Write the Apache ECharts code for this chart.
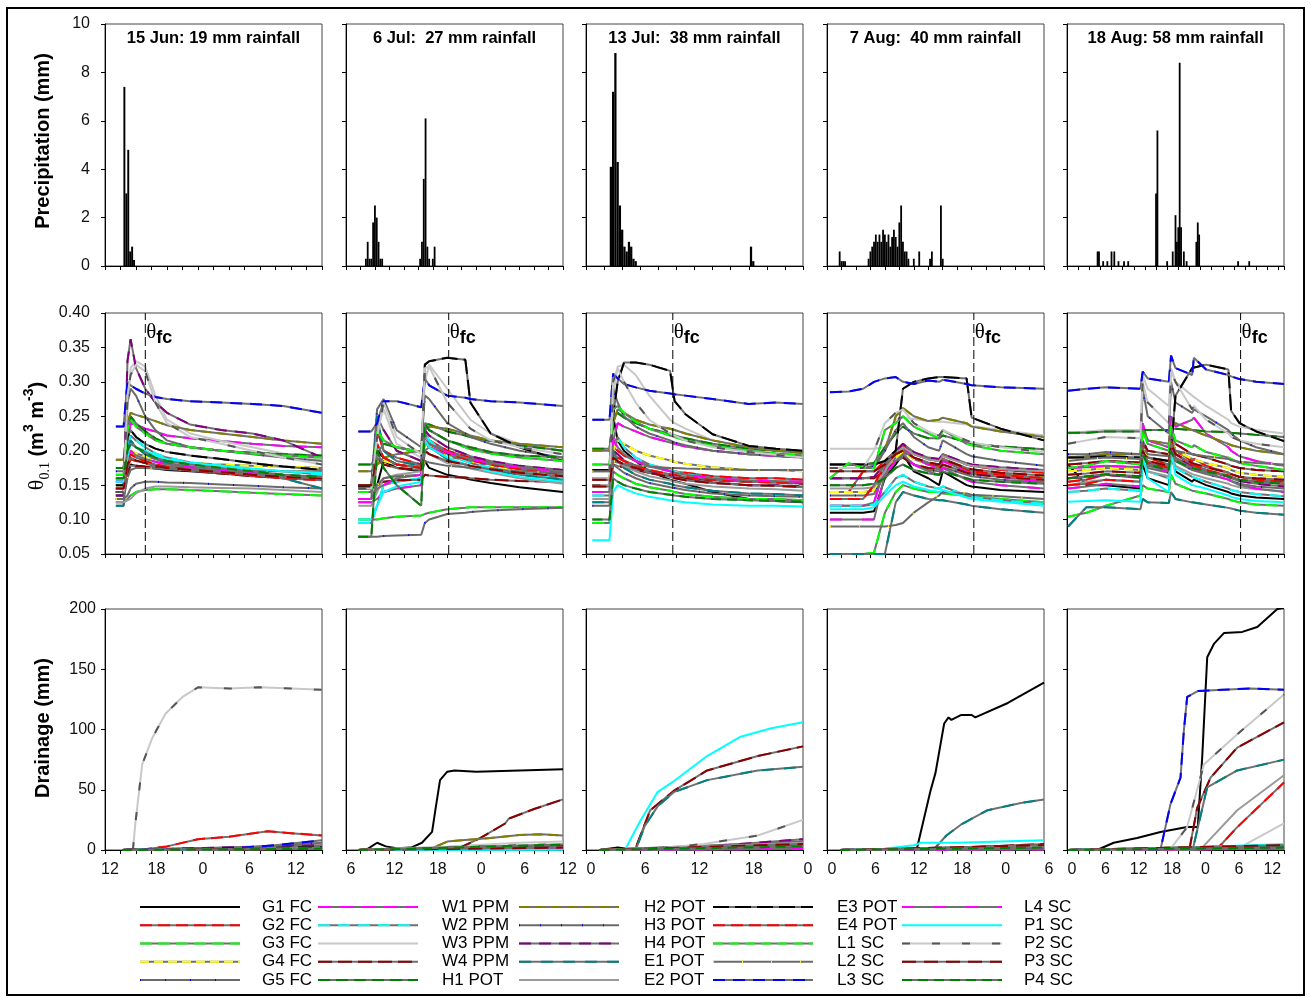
<!DOCTYPE html>
<html><head><meta charset="utf-8">
<script src="https://cdn.jsdelivr.net/npm/echarts@6/dist/echarts.min.js"></script>
<style>html,body{margin:0;padding:0;background:#fff}#c{width:1311px;height:997px}</style>
</head><body><div id="c"></div>
<script>
// ---------------- DATA ----------------
const seriesNames = ['G1 FC','G2 FC','G3 FC','G4 FC','G5 FC','W1 PPM','W2 PPM','W3 PPM','W4 PPM','H1 POT',
  'H2 POT','H3 POT','H4 POT','E1 POT','E2 POT','E3 POT','E4 POT','L1 SC','L2 SC','L3 SC','L4 SC','P1 SC','P2 SC','P3 SC','P4 SC'];
const panelTitles = ['15 Jun: 19 mm rainfall','6 Jul:  27 mm rainfall','13 Jul:  38 mm rainfall','7 Aug:  40 mm rainfall','18 Aug: 58 mm rainfall'];
const hourMin = [12, 6, 0, 0, 0];
const hourMax = [40, 36, 24, 30, 39];
const thetaFcHours = [17.2, 20.2, 9.6, 20.3, 31.2];

// precipitation [hour, mm]
const precip15Jun = [[14.5,7.4],[14.75,3.0],[15.0,4.8],[15.25,0.6],[15.5,0.8],[15.75,0.25]];
const precip6Jul = [[8.75,0.3],[9.0,1.0],[9.25,0.3],[9.5,0.3],[9.75,1.8],[10.0,2.5],[10.25,2.0],[10.5,1.0],[10.75,0.3],[11.0,0.3],
  [16.25,0.3],[16.5,1.0],[16.75,3.6],[17.0,6.1],[17.25,0.8],[17.5,0.3],[18.0,0.3],[18.25,0.8]];
const precip13Jul = [[2.75,4.1],[3.0,7.2],[3.25,8.8],[3.5,4.3],[3.75,2.5],[4.0,1.5],[4.25,0.8],[4.5,0.6],[4.75,1.0],[5.0,0.8],[5.25,0.3],[5.5,0.2],[18.25,0.8],[18.5,0.2]];
const precip7Aug = [[1.75,0.6],[2.0,0.2],[2.25,0.2],[2.5,0.2],[5.75,0.3],[6.0,0.6],[6.25,0.8],[6.5,1.0],[6.75,1.3],[7.0,1.0],[7.25,1.3],[7.5,1.0],
  [7.75,1.5],[8.0,1.3],[8.25,1.0],[8.5,1.3],[8.75,0.8],[9.0,1.2],[9.25,1.5],[9.5,1.2],[9.75,0.8],[10.0,1.8],[10.25,2.5],[10.5,1.0],
  [10.75,0.6],[11.0,0.6],[11.25,0.3],[12.0,0.3],[12.75,0.6],[14.25,0.3],[14.5,0.6],[15.75,2.5],[16.0,0.3]];
const precip18Aug = [[5.5,0.6],[5.75,0.6],[6.5,0.2],[7.25,0.2],[8.0,0.6],[8.5,0.6],[9.25,0.2],[10.25,0.2],[11.0,0.2],[16.0,3.0],[16.25,5.6],
  [18.0,0.2],[19.0,0.6],[19.5,2.1],[19.75,1.0],[20.0,1.6],[20.25,8.4],[20.5,1.6],[21.0,0.6],[21.5,0.2],[23.25,1.0],[23.5,1.8],[23.75,1.3],[30.75,0.2],[32.75,0.2]];

// soil water content: time grids (hours) and one value row per sensor (order of seriesNames)
const thetaTime15Jun = [13.4,14.4,14.9,15.3,16,17.2,18.5,20,23,27,31,35,40];
const theta15Jun = [
 [0.135,0.135,0.165,0.180,0.178,0.176,0.174,0.172,0.170,0.167,0.164,0.162,0.160],
 [0.145,0.145,0.180,0.195,0.190,0.185,0.180,0.177,0.174,0.170,0.166,0.163,0.160],
 [0.125,0.125,0.130,0.135,0.140,0.143,0.144,0.144,0.143,0.141,0.139,0.137,0.135],
 [0.150,0.150,0.190,0.200,0.196,0.192,0.188,0.185,0.182,0.180,0.178,0.177,0.175],
 [0.130,0.130,0.135,0.145,0.152,0.155,0.155,0.154,0.153,0.151,0.149,0.147,0.145],
 [0.140,0.140,0.210,0.240,0.238,0.232,0.228,0.222,0.218,0.214,0.210,0.207,0.205],
 [0.158,0.158,0.200,0.222,0.215,0.205,0.196,0.190,0.183,0.178,0.173,0.170,0.165],
 [0.145,0.145,0.260,0.320,0.330,0.322,0.280,0.245,0.225,0.214,0.205,0.196,0.186],
 [0.140,0.140,0.170,0.178,0.178,0.177,0.176,0.174,0.171,0.167,0.163,0.160,0.158],
 [0.175,0.175,0.230,0.250,0.240,0.228,0.218,0.210,0.205,0.200,0.197,0.195,0.193],
 [0.187,0.187,0.240,0.255,0.252,0.248,0.243,0.237,0.230,0.225,0.220,0.215,0.210],
 [0.170,0.170,0.270,0.290,0.280,0.250,0.230,0.215,0.205,0.200,0.195,0.190,0.185],
 [0.135,0.135,0.330,0.362,0.320,0.290,0.270,0.255,0.238,0.230,0.225,0.215,0.190],
 [0.120,0.120,0.200,0.215,0.205,0.195,0.188,0.182,0.177,0.172,0.168,0.160,0.145],
 [0.125,0.125,0.128,0.130,0.138,0.145,0.148,0.148,0.147,0.146,0.145,0.143,0.140],
 [0.150,0.150,0.220,0.230,0.220,0.210,0.203,0.198,0.193,0.188,0.182,0.177,0.172],
 [0.140,0.140,0.175,0.188,0.185,0.182,0.178,0.175,0.172,0.168,0.164,0.160,0.157],
 [0.165,0.165,0.230,0.245,0.235,0.225,0.215,0.210,0.205,0.200,0.196,0.193,0.190],
 [0.130,0.130,0.160,0.172,0.175,0.175,0.174,0.173,0.172,0.171,0.170,0.170,0.170],
 [0.235,0.235,0.300,0.295,0.290,0.283,0.278,0.275,0.272,0.270,0.268,0.265,0.255],
 [0.155,0.155,0.190,0.200,0.193,0.188,0.184,0.180,0.176,0.172,0.168,0.165,0.162],
 [0.155,0.155,0.190,0.210,0.205,0.200,0.193,0.188,0.182,0.178,0.174,0.170,0.168],
 [0.140,0.140,0.280,0.310,0.325,0.315,0.270,0.240,0.220,0.210,0.200,0.190,0.180],
 [0.145,0.145,0.180,0.190,0.186,0.182,0.178,0.175,0.172,0.169,0.165,0.162,0.160],
 [0.160,0.160,0.200,0.210,0.205,0.198,0.190,0.185,0.180,0.175,0.170,0.165,0.162]];
const thetaTime6Jul = [7.7,9.5,10.3,11.2,13,16.4,16.9,17.5,20,22.5,23.2,26,30,36];
const theta6Jul = [
 [0.145,0.145,0.150,0.185,0.175,0.170,0.185,0.175,0.165,0.160,0.158,0.153,0.147,0.140],
 [0.150,0.150,0.230,0.200,0.190,0.180,0.220,0.215,0.200,0.192,0.190,0.183,0.176,0.168],
 [0.100,0.100,0.100,0.102,0.104,0.106,0.108,0.110,0.115,0.117,0.118,0.118,0.118,0.118],
 [0.150,0.150,0.180,0.185,0.180,0.176,0.210,0.205,0.192,0.186,0.184,0.178,0.172,0.168],
 [0.075,0.075,0.075,0.076,0.077,0.078,0.095,0.100,0.108,0.110,0.111,0.113,0.115,0.117],
 [0.125,0.125,0.130,0.140,0.145,0.150,0.200,0.205,0.195,0.188,0.186,0.180,0.175,0.170],
 [0.095,0.095,0.120,0.150,0.155,0.160,0.225,0.215,0.195,0.185,0.182,0.175,0.168,0.160],
 [0.150,0.150,0.230,0.260,0.210,0.190,0.300,0.325,0.290,0.255,0.245,0.225,0.210,0.200],
 [0.148,0.148,0.150,0.155,0.157,0.158,0.165,0.164,0.162,0.161,0.160,0.158,0.156,0.155],
 [0.180,0.180,0.195,0.210,0.205,0.198,0.240,0.238,0.228,0.222,0.220,0.214,0.208,0.200],
 [0.170,0.170,0.180,0.190,0.195,0.200,0.230,0.235,0.232,0.225,0.222,0.215,0.210,0.205],
 [0.150,0.150,0.260,0.275,0.230,0.205,0.280,0.275,0.240,0.225,0.220,0.210,0.200,0.190],
 [0.145,0.145,0.250,0.230,0.200,0.185,0.230,0.222,0.205,0.195,0.192,0.185,0.178,0.172],
 [0.130,0.130,0.250,0.200,0.185,0.178,0.215,0.205,0.188,0.180,0.178,0.172,0.165,0.158],
 [0.120,0.120,0.140,0.160,0.165,0.170,0.200,0.195,0.182,0.176,0.174,0.168,0.160,0.152],
 [0.148,0.148,0.200,0.190,0.180,0.175,0.325,0.330,0.335,0.332,0.270,0.225,0.205,0.185],
 [0.140,0.140,0.210,0.190,0.180,0.175,0.215,0.210,0.196,0.188,0.186,0.180,0.173,0.165],
 [0.140,0.140,0.230,0.215,0.205,0.198,0.235,0.230,0.215,0.205,0.202,0.196,0.190,0.185],
 [0.130,0.130,0.150,0.160,0.163,0.165,0.185,0.183,0.178,0.176,0.175,0.172,0.170,0.168],
 [0.228,0.228,0.240,0.272,0.272,0.263,0.305,0.295,0.280,0.277,0.275,0.272,0.270,0.265],
 [0.130,0.130,0.145,0.150,0.160,0.165,0.215,0.210,0.198,0.190,0.188,0.182,0.176,0.170],
 [0.100,0.100,0.120,0.140,0.148,0.155,0.215,0.205,0.190,0.180,0.178,0.170,0.162,0.155],
 [0.145,0.145,0.220,0.270,0.220,0.195,0.320,0.322,0.270,0.240,0.232,0.215,0.205,0.195],
 [0.150,0.150,0.190,0.180,0.175,0.172,0.200,0.195,0.185,0.180,0.178,0.173,0.168,0.163],
 [0.075,0.075,0.200,0.175,0.150,0.120,0.240,0.230,0.215,0.207,0.205,0.198,0.193,0.190]];
const thetaTime13Jul = [0.7,2.6,3.0,3.5,4.2,5.5,7,9.3,9.8,11,14,18,21,24];
const theta13Jul = [
 [0.150,0.150,0.250,0.215,0.200,0.185,0.170,0.158,0.156,0.152,0.140,0.130,0.127,0.125],
 [0.158,0.158,0.205,0.200,0.193,0.185,0.178,0.172,0.170,0.168,0.163,0.160,0.160,0.158],
 [0.095,0.095,0.170,0.165,0.160,0.152,0.147,0.142,0.140,0.137,0.133,0.130,0.130,0.128],
 [0.160,0.160,0.200,0.215,0.210,0.200,0.193,0.186,0.184,0.181,0.176,0.172,0.172,0.170],
 [0.120,0.120,0.180,0.175,0.168,0.160,0.153,0.147,0.146,0.143,0.138,0.135,0.134,0.133],
 [0.160,0.160,0.215,0.240,0.235,0.228,0.220,0.212,0.210,0.206,0.200,0.195,0.192,0.190],
 [0.135,0.135,0.210,0.220,0.205,0.190,0.180,0.172,0.170,0.166,0.160,0.156,0.155,0.153],
 [0.160,0.160,0.280,0.322,0.325,0.310,0.280,0.245,0.240,0.232,0.215,0.205,0.200,0.195],
 [0.158,0.158,0.180,0.178,0.176,0.172,0.168,0.163,0.162,0.160,0.157,0.155,0.154,0.152],
 [0.203,0.203,0.250,0.255,0.248,0.240,0.232,0.225,0.222,0.218,0.210,0.203,0.200,0.197],
 [0.200,0.200,0.240,0.260,0.255,0.245,0.238,0.232,0.230,0.225,0.215,0.205,0.200,0.198],
 [0.170,0.170,0.290,0.270,0.250,0.235,0.225,0.215,0.212,0.208,0.200,0.195,0.193,0.190],
 [0.140,0.140,0.200,0.195,0.186,0.178,0.170,0.163,0.161,0.158,0.154,0.150,0.150,0.148],
 [0.125,0.125,0.200,0.185,0.175,0.165,0.158,0.152,0.150,0.147,0.142,0.138,0.137,0.135],
 [0.130,0.130,0.190,0.185,0.178,0.170,0.163,0.157,0.155,0.152,0.148,0.145,0.144,0.142],
 [0.172,0.172,0.250,0.300,0.328,0.328,0.325,0.316,0.272,0.253,0.224,0.207,0.203,0.200],
 [0.150,0.150,0.195,0.190,0.185,0.178,0.172,0.166,0.165,0.162,0.158,0.155,0.154,0.153],
 [0.180,0.180,0.260,0.265,0.255,0.242,0.232,0.222,0.220,0.215,0.207,0.200,0.196,0.193],
 [0.170,0.170,0.185,0.183,0.181,0.179,0.177,0.175,0.175,0.174,0.173,0.172,0.172,0.172],
 [0.245,0.245,0.312,0.305,0.297,0.292,0.287,0.283,0.282,0.280,0.275,0.268,0.270,0.268],
 [0.140,0.140,0.215,0.205,0.195,0.185,0.177,0.170,0.168,0.165,0.160,0.157,0.156,0.155],
 [0.070,0.070,0.140,0.150,0.145,0.138,0.133,0.128,0.127,0.125,0.122,0.120,0.120,0.119],
 [0.150,0.150,0.300,0.320,0.300,0.270,0.245,0.225,0.222,0.215,0.205,0.198,0.194,0.190],
 [0.148,0.148,0.190,0.185,0.180,0.175,0.168,0.162,0.160,0.157,0.153,0.150,0.149,0.147],
 [0.100,0.100,0.160,0.155,0.150,0.145,0.140,0.136,0.135,0.133,0.130,0.128,0.127,0.126]];
const thetaTime7Aug = [0.4,3,5,6.5,8,9.5,10.5,12,14,15.5,16,19.3,20,24,30];
const theta7Aug = [
 [0.110,0.110,0.110,0.112,0.160,0.180,0.195,0.170,0.160,0.150,0.170,0.150,0.148,0.143,0.140],
 [0.140,0.140,0.170,0.170,0.185,0.200,0.208,0.195,0.188,0.185,0.195,0.180,0.178,0.172,0.168],
 [0.050,0.050,0.050,0.052,0.110,0.140,0.150,0.145,0.140,0.140,0.138,0.135,0.134,0.130,0.125],
 [0.140,0.140,0.140,0.142,0.170,0.190,0.198,0.188,0.180,0.178,0.186,0.172,0.170,0.166,0.162],
 [0.135,0.135,0.135,0.137,0.165,0.185,0.190,0.180,0.172,0.170,0.176,0.165,0.163,0.158,0.154],
 [0.120,0.120,0.120,0.125,0.175,0.195,0.205,0.190,0.180,0.175,0.185,0.170,0.168,0.162,0.155],
 [0.120,0.120,0.120,0.122,0.140,0.160,0.165,0.155,0.148,0.145,0.148,0.135,0.133,0.128,0.123],
 [0.203,0.203,0.203,0.203,0.205,0.245,0.248,0.246,0.243,0.242,0.242,0.238,0.236,0.230,0.222],
 [0.160,0.160,0.160,0.160,0.170,0.185,0.190,0.180,0.175,0.173,0.180,0.168,0.166,0.162,0.158],
 [0.180,0.180,0.180,0.182,0.205,0.225,0.235,0.225,0.218,0.218,0.222,0.213,0.210,0.206,0.202],
 [0.175,0.175,0.175,0.175,0.200,0.250,0.262,0.250,0.243,0.245,0.248,0.240,0.235,0.228,0.220],
 [0.175,0.175,0.175,0.178,0.200,0.230,0.240,0.220,0.205,0.200,0.215,0.195,0.192,0.185,0.178],
 [0.160,0.160,0.160,0.162,0.180,0.200,0.210,0.198,0.190,0.188,0.195,0.182,0.180,0.176,0.172],
 [0.050,0.050,0.050,0.050,0.050,0.125,0.140,0.135,0.130,0.128,0.128,0.122,0.120,0.115,0.110],
 [0.145,0.145,0.145,0.147,0.170,0.195,0.205,0.195,0.187,0.185,0.192,0.180,0.178,0.173,0.170],
 [0.180,0.180,0.180,0.180,0.185,0.200,0.290,0.300,0.305,0.307,0.307,0.305,0.248,0.232,0.215],
 [0.130,0.130,0.130,0.150,0.180,0.195,0.200,0.190,0.182,0.178,0.188,0.173,0.170,0.165,0.160],
 [0.160,0.182,0.175,0.175,0.230,0.240,0.250,0.235,0.225,0.218,0.230,0.210,0.208,0.200,0.195],
 [0.090,0.090,0.090,0.090,0.090,0.092,0.095,0.110,0.125,0.135,0.140,0.138,0.136,0.134,0.130],
 [0.285,0.286,0.290,0.300,0.305,0.307,0.300,0.297,0.302,0.300,0.303,0.297,0.295,0.292,0.290],
 [0.100,0.100,0.100,0.100,0.165,0.185,0.195,0.180,0.170,0.165,0.175,0.158,0.155,0.150,0.145],
 [0.115,0.115,0.115,0.118,0.135,0.150,0.155,0.148,0.143,0.140,0.143,0.132,0.130,0.126,0.120],
 [0.175,0.175,0.175,0.200,0.240,0.255,0.260,0.240,0.228,0.222,0.230,0.215,0.212,0.205,0.198],
 [0.170,0.170,0.170,0.170,0.180,0.195,0.200,0.190,0.183,0.180,0.188,0.175,0.173,0.168,0.164],
 [0.150,0.150,0.150,0.152,0.160,0.175,0.180,0.172,0.167,0.165,0.170,0.160,0.158,0.155,0.152]];
const thetaTime18Aug = [0.2,3.5,7,13.2,13.6,14.5,18.3,18.7,19.5,22.5,22.8,25,29,29.5,31,34,39];
const theta18Aug = [
 [0.180,0.150,0.150,0.145,0.180,0.160,0.150,0.195,0.170,0.155,0.158,0.150,0.140,0.138,0.135,0.132,0.130],
 [0.155,0.158,0.165,0.162,0.210,0.190,0.180,0.220,0.200,0.185,0.188,0.178,0.168,0.166,0.162,0.158,0.155],
 [0.104,0.110,0.120,0.135,0.150,0.145,0.140,0.165,0.152,0.142,0.144,0.138,0.130,0.128,0.125,0.122,0.120],
 [0.170,0.172,0.175,0.172,0.205,0.190,0.185,0.215,0.200,0.188,0.190,0.182,0.175,0.172,0.168,0.165,0.162],
 [0.160,0.162,0.165,0.160,0.190,0.175,0.168,0.200,0.185,0.172,0.174,0.166,0.158,0.156,0.152,0.148,0.145],
 [0.175,0.176,0.178,0.176,0.240,0.215,0.205,0.250,0.235,0.245,0.248,0.225,0.205,0.200,0.192,0.185,0.178],
 [0.140,0.142,0.145,0.142,0.190,0.170,0.160,0.195,0.175,0.162,0.164,0.155,0.145,0.143,0.140,0.137,0.134],
 [0.225,0.228,0.230,0.230,0.310,0.290,0.265,0.320,0.300,0.280,0.282,0.265,0.245,0.240,0.235,0.230,0.225],
 [0.180,0.182,0.185,0.183,0.215,0.200,0.195,0.225,0.210,0.195,0.197,0.190,0.180,0.178,0.175,0.172,0.170],
 [0.226,0.226,0.228,0.228,0.230,0.230,0.230,0.232,0.232,0.230,0.230,0.228,0.227,0.226,0.225,0.223,0.220],
 [0.190,0.192,0.195,0.195,0.230,0.215,0.210,0.235,0.240,0.230,0.232,0.222,0.210,0.208,0.205,0.200,0.195],
 [0.195,0.195,0.198,0.195,0.290,0.250,0.225,0.300,0.270,0.255,0.260,0.250,0.230,0.225,0.215,0.205,0.195],
 [0.160,0.162,0.165,0.162,0.200,0.182,0.175,0.210,0.190,0.178,0.180,0.172,0.162,0.160,0.156,0.152,0.148],
 [0.090,0.118,0.118,0.115,0.130,0.125,0.124,0.140,0.130,0.125,0.126,0.122,0.117,0.116,0.113,0.110,0.107],
 [0.150,0.155,0.158,0.155,0.185,0.170,0.163,0.195,0.178,0.166,0.168,0.160,0.152,0.150,0.147,0.144,0.141],
 [0.190,0.190,0.192,0.190,0.195,0.190,0.185,0.200,0.280,0.320,0.322,0.325,0.318,0.258,0.240,0.228,0.214],
 [0.150,0.152,0.158,0.155,0.200,0.183,0.175,0.215,0.195,0.180,0.182,0.172,0.164,0.162,0.158,0.155,0.152],
 [0.175,0.178,0.185,0.180,0.230,0.210,0.200,0.235,0.215,0.205,0.208,0.198,0.190,0.188,0.182,0.178,0.172],
 [0.185,0.188,0.190,0.188,0.205,0.195,0.192,0.210,0.200,0.195,0.196,0.192,0.188,0.186,0.184,0.182,0.180],
 [0.287,0.290,0.292,0.290,0.315,0.305,0.300,0.338,0.320,0.310,0.335,0.318,0.310,0.308,0.304,0.300,0.297],
 [0.145,0.148,0.152,0.148,0.195,0.178,0.170,0.205,0.188,0.175,0.177,0.168,0.158,0.156,0.150,0.145,0.140],
 [0.126,0.127,0.128,0.126,0.200,0.160,0.140,0.200,0.165,0.150,0.152,0.145,0.135,0.133,0.130,0.127,0.125],
 [0.210,0.215,0.220,0.218,0.300,0.270,0.240,0.315,0.300,0.260,0.265,0.245,0.225,0.220,0.215,0.210,0.205],
 [0.165,0.167,0.170,0.168,0.200,0.185,0.178,0.210,0.195,0.182,0.184,0.176,0.168,0.166,0.162,0.160,0.158],
 [0.160,0.163,0.166,0.163,0.195,0.180,0.172,0.200,0.185,0.175,0.177,0.170,0.163,0.161,0.158,0.155,0.152]];

// cumulative drainage [hour, mm] per sensor (order of seriesNames)
const drain15Jun = [
 [[14.2,0],[40,1.5]],[[14.2,0],[40,2]],[[14.2,0],[40,1]],[[14.2,0],[40,2.5]],[[14.2,0],[40,3]],
 [[14.2,0],[40,3.5]],[[14.2,0],[40,2]],[[14.2,0],[40,4]],[[14.2,0],[40,1]],[[14.2,0],[40,2]],
 [[14.2,0],[40,3]],[[14.2,0],[30,2],[40,6]],[[14.2,0],[40,4]],[[14.2,0],[40,1.5]],[[14.2,0],[40,2]],
 [[14.2,0],[40,2.5]],[[14.2,0],[17,0.5],[20,3],[24,9],[28,11],[33,15.5],[36,14],[40,12]],[[14.2,0],[40,1.5]],[[14.2,0],[40,2]],[[14.2,0],[30,2],[34,4],[40,8]],
 [[14.2,0],[40,1]],[[14.2,0],[40,1.5]],[[15.6,0],[15.9,21],[16.8,71],[18.1,93],[19.8,113],[22,127],[24,135],[28,134],[32,135],[36,134],[40,133]],[[14.2,0],[40,1.5]],[[14.2,0],[40,1]]];
const drain6Jul = [
 [[7.7,0],[9,1],[10.3,6],[11.5,3],[13,1.5],[15,2],[16.5,6],[17.9,15],[18.4,35],[19,58],[20,65],[21,66],[24,65],[30,66],[36,67]],
 [[7.7,0],[36,2]],[[7.7,0],[36,1]],[[7.7,0],[36,3]],[[7.7,0],[36,2]],
 [[7.7,0],[36,1.5]],[[7.7,0],[36,1]],[[7.7,0],[20,3],[30,6],[36,7]],[[7.7,0],[21.1,0],[24.6,10],[28,22],[28.5,26],[32,34],[36,42]],[[7.7,0],[36,3]],
 [[7.7,0],[17.5,0.5],[20,7],[22,8],[26,10],[30,12.5],[33,13],[36,12]],[[7.7,0],[36,2.5]],[[7.7,0],[36,4]],[[7.7,0],[36,2]],[[7.7,0],[36,3]],
 [[7.7,0],[36,4]],[[7.7,0],[36,2]],[[7.7,0],[36,1.5]],[[7.7,0],[36,2]],[[7.7,0],[36,0.5]],
 [[7.7,0],[36,1]],[[7.7,0],[36,0.3]],[[7.7,0],[36,5]],[[7.7,0],[36,2]],[[7.7,0],[36,4.5]]];
const drain13Jul = [
 [[1.5,0],[3.5,2],[4.5,1],[24,5]],[[1.5,0],[24,4]],[[1.5,0],[24,2]],[[1.5,0],[24,5]],[[1.5,0],[24,3]],
 [[1.5,0],[24,1]],[[1.5,0],[24,3]],[[1.5,0],[24,6]],[[1.5,0],[5.4,0],[7.1,33],[9.7,49],[13.4,66],[19,78],[24,86]],[[1.5,0],[24,4]],
 [[1.5,0],[24,5]],[[1.5,0],[24,7]],[[1.5,0],[12,2],[24,9]],[[1.5,0],[5.5,0],[6.5,20],[7.9,36],[9.7,48],[13.4,58],[19,66],[24,69]],[[1.5,0],[24,6]],
 [[1.5,0],[24,4]],[[1.5,0],[24,3]],[[1.5,0],[24,2]],[[1.5,0],[24,3]],[[1.5,0],[24,1.5]],
 [[1.5,0],[24,1]],[[1.5,0],[4.3,0],[6,24],[7.9,48],[9.7,57],[13.4,78],[17.1,94],[20.5,101],[24,106]],[[1.5,0],[5,0.5],[9,2],[13,5],[19,12],[24,25]],[[1.5,0],[24,5]],[[1.5,0],[24,3]]];
const drain7Aug = [
 [[1.8,0],[12.4,0.5],[14.3,49],[15,64],[16.2,105],[16.8,110],[17.2,108],[18.5,112],[20,112],[20.5,110],[25,122],[30,139]],
 [[1.8,0],[30,3]],[[1.8,0],[30,1]],[[1.8,0],[30,2]],[[1.8,0],[30,2]],
 [[1.8,0],[30,1]],[[1.8,0],[30,2]],[[1.8,0],[30,3]],[[1.8,0],[15,1],[30,5]],[[1.8,0],[30,2]],
 [[1.8,0],[30,3]],[[1.8,0],[30,4]],[[1.8,0],[30,2]],[[1.8,0],[14.7,0],[16.5,12],[18.5,21],[22.2,33],[26.8,39],[30,42]],[[1.8,0],[30,3]],
 [[1.8,0],[30,2]],[[1.8,0],[20,2],[30,4]],[[1.8,0],[30,1]],[[1.8,0],[30,2]],[[1.8,0],[30,1]],
 [[1.8,0],[30,0.5]],[[1.8,0],[8,1],[12,4],[13,6],[18,6],[24,7],[30,8]],[[1.8,0],[30,3]],[[1.8,0],[30,4]],[[1.8,0],[30,2]]];
const drain18Aug = [
 [[5.4,0],[8.4,6],[12.6,10],[16.8,15],[21.6,19],[23.5,19],[24.3,77],[25.2,160],[26.4,171],[28.2,180],[31.5,181],[34.2,185],[37.8,200],[39,201]],
 [[0.2,0],[39,3]],[[0.2,0],[39,2]],[[0.2,0],[39,4]],[[0.2,0],[39,3]],
 [[0.2,0],[39,1]],[[0.2,0],[39,2]],[[0.2,0],[30.6,1],[39,22]],[[0.2,0],[22,0.5],[23.4,35],[25.8,60],[30.6,85],[39,106]],[[0.2,0],[39,3]],
 [[0.2,0],[39,4]],[[0.2,0],[39,3]],[[0.2,0],[39,2]],[[0.2,0],[22.6,0.5],[25.2,52],[30.6,66],[39,75]],[[0.2,0],[24,0.5],[30.6,33],[39,62]],
 [[0.2,0],[39,3]],[[0.2,0],[27,1],[30.6,19],[39,56]],[[0.2,0],[39,2]],[[0.2,0],[39,2]],[[0.2,0],[16.8,0.5],[18.6,38],[20.4,60],[21,99],[21.6,127],[23.6,132],[28,133],[33,134],[39,133]],
 [[0.2,0],[39,1]],[[0.2,0],[22,2],[39,5]],[[0.2,0],[18.6,1],[21.6,19],[24.6,71],[30.6,96],[39,129]],[[0.2,0],[39,4]],[[0.2,0],[39,2]]];

const precipAll = [precip15Jun, precip6Jul, precip13Jul, precip7Aug, precip18Aug];
const thetaTimes = [thetaTime15Jun, thetaTime6Jul, thetaTime13Jul, thetaTime7Aug, thetaTime18Aug];
const thetaAll = [theta15Jun, theta6Jul, theta13Jul, theta7Aug, theta18Aug];
const drainAll = [drain15Jun, drain6Jul, drain13Jul, drain7Aug, drain18Aug];

// ---------------- STYLES ----------------
const G = '#707070';
const lineBase = ['#000',G,G,G,'#6a6a6a',G,G,'#c8c8c8',G,G, G,'#6a6a6a',G,G,'#9a9a9a',G,G,G,'#6a6a6a',G, G,'#00ffff','#c8c8c8',G,G];
const lineOver = [null,'#ff0000','#00ff00','#ffff00','#0000ff','#ff00ff','#00ffff',null,'#8b0000','#008000',
  '#808000','#0000ff','#800080','#008080',null,'#000000','#ff0000','#00ff00','#ffff00','#0000ff','#ff00ff',null,'#555555','#8b0000','#008000'];
const lineDash = [null,[12,6],[12,6],[9,5],[1,24],[14,8],[12,8],null,[14,6],[12,6],
  [10,6],[1,20],[12,8],[12,10],null,[16,6],[12,6],[10,6],[1,28],[12,8],[12,20],null,[8,22],[14,8],[10,6]];

const FONT = '"Liberation Sans", Arial, Helvetica, sans-serif';
const SERIF = '"Liberation Serif", "DejaVu Serif", serif';
const colLeft = [105, 346, 586, 827, 1067], colW = 217;
const rowTop = [24, 313, 609], rowH = [242, 241, 241];
const yCfg = [
  {min:0, max:10, interval:2, fmt:v=>String(v), margin:15},
  {min:0.05, max:0.40, interval:0.05, fmt:v=>v.toFixed(2), margin:15},
  {min:0, max:200, interval:50, fmt:v=>String(v), margin:9}];

const grids=[], xAxes=[], yAxes=[], series=[];
for (let r=0;r<3;r++) for (let c=0;c<5;c++) {
  const i=r*5+c;
  grids.push({left:colLeft[c], top:rowTop[r], width:colW, height:rowH[r], show:true, borderColor:'#444', borderWidth:1});
  xAxes.push({type:'value', gridIndex:i, min:hourMin[c], max:hourMax[c], interval:2,
    axisLine:{onZero:false, lineStyle:{color:'#000', width:1}},
    axisTick:{show:true, length:4, lineStyle:{color:'#000'}},
    splitLine:{show:false},
    axisLabel:{show:r===2, showMinLabel:true, showMaxLabel:true, fontSize:16, fontFamily:FONT, color:'#111', margin:12, padding:[0,0,0,10],
      formatter:v=>{const h=Math.round(v); return h%6===0 ? String(((h%24)+24)%24) : '';}}});
  const y=yCfg[r];
  yAxes.push({type:'value', gridIndex:i, min:y.min, max:y.max, interval:y.interval,
    axisLine:{show:true, lineStyle:{color:'#000', width:1}},
    axisTick:{show:true, length:4, lineStyle:{color:'#000'}},
    splitLine:{show:false},
    axisLabel:{show:c===0, fontSize:16, fontFamily:FONT, color:'#111', margin:y.margin, formatter:y.fmt}});
}

function addLine(idx, pts, s){
  const common={type:'line', xAxisIndex:idx, yAxisIndex:idx, data:pts, showSymbol:false, symbol:'none', silent:true, animation:false, clip:true};
  series.push(Object.assign({}, common, {name:seriesNames[s], lineStyle:{color:lineBase[s], width:2}}));
  if (lineOver[s]) series.push(Object.assign({}, common, {name:seriesNames[s]+'_', lineStyle:{color:lineOver[s], width:2, type:lineDash[s]}}));
}

for (let c=0;c<5;c++) {
  const pxh = colW/(hourMax[c]-hourMin[c]);
  series.push({type:'bar', xAxisIndex:c, yAxisIndex:c, data:precipAll[c], barWidth:Math.max(1.8, 0.25*pxh),
    itemStyle:{color:'#000'}, silent:true, animation:false});
  const t=thetaTimes[c], th=thetaAll[c];
  for (let s=0;s<25;s++) addLine(5+c, t.map((h,k)=>[h, th[s][k]]), s);
  const fc=thetaFcHours[c];
  series.push({type:'line', xAxisIndex:5+c, yAxisIndex:5+c, silent:true, animation:false, z:5,
    data:[[fc, yCfg[1].min], {value:[fc, yCfg[1].max], label:{show:true, position:'right', distance:1, offset:[0,19],
      formatter:'{t|θ}{s|fc}', rich:{t:{fontFamily:SERIF, fontSize:21, lineHeight:30, color:'#000'}, s:{fontFamily:FONT, fontSize:18, fontWeight:'bold', lineHeight:18, verticalAlign:'bottom', color:'#000'}}}}],
    symbol:'circle', symbolSize:0.01, showSymbol:true, itemStyle:{color:'rgba(0,0,0,0)'},
    lineStyle:{color:'#000', width:1, type:[9,4]}});
  const d=drainAll[c];
  for (let s=0;s<25;s++) addLine(10+c, d[s], s);
}

// ---------------- GRAPHICS (titles, legend, frame) ----------------
const graphic=[];
graphic.push({type:'rect', shape:{x:7, y:8, width:1297, height:987}, style:{fill:'none', stroke:'#000', lineWidth:2}, silent:true});
for (let c=0;c<5;c++) graphic.push({type:'text', x:colLeft[c]+colW/2, y:38, silent:true,
  style:{text:panelTitles[c], font:'bold 16.5px '+FONT, fill:'#000', align:'center', verticalAlign:'middle', textAlign:'center', textVerticalAlign:'middle'}});
graphic.push({type:'text', x:43, y:141, rotation:Math.PI/2, silent:true,
  style:{text:'Precipitation (mm)', font:'bold 20px '+FONT, fill:'#000', align:'center', verticalAlign:'middle', textAlign:'center', textVerticalAlign:'middle'}});
graphic.push({type:'text', x:43, y:728, rotation:Math.PI/2, silent:true,
  style:{text:'Drainage (mm)', font:'bold 20px '+FONT, fill:'#000', align:'center', verticalAlign:'middle', textAlign:'center', textVerticalAlign:'middle'}});
graphic.push({type:'text', x:37, y:436, rotation:Math.PI/2, silent:true,
  style:{text:'{t|θ}{s|0.1}{b| (m}{p|3}{b| m}{p|-3}{b|)}', fill:'#000', align:'center', verticalAlign:'middle', textAlign:'center', textVerticalAlign:'middle',
    rich:{t:{fontFamily:SERIF, fontSize:22, lineHeight:30, fill:'#000'},
          s:{fontFamily:SERIF, fontSize:14, lineHeight:14, verticalAlign:'bottom', fill:'#000'},
          b:{fontFamily:FONT, fontSize:20, fontWeight:'bold', lineHeight:30, fill:'#000'},
          p:{fontFamily:FONT, fontSize:14, fontWeight:'bold', lineHeight:14, verticalAlign:'top', fill:'#000'}}}});
const legIconX=[140,318,519,713,902], legTextX=[262,442,644,837,1024], legY0=907, legDY=18.25, legW=100;
for (let s=0;s<25;s++){
  const col=Math.floor(s/5), row=s%5, y=legY0+row*legDY, x=legIconX[col];
  graphic.push({type:'line', silent:true, shape:{x1:x, y1:y, x2:x+legW, y2:y}, style:{stroke:lineBase[s], lineWidth:2}});
  if (lineOver[s]) graphic.push({type:'line', silent:true, shape:{x1:x, y1:y, x2:x+legW, y2:y}, style:{stroke:lineOver[s], lineWidth:2, lineDash:lineDash[s]}});
  graphic.push({type:'text', silent:true, x:legTextX[col], y:y,
    style:{text:seriesNames[s], font:'17px '+FONT, fill:'#000', align:'left', verticalAlign:'middle', textAlign:'left', textVerticalAlign:'middle'}});
}

const chart=echarts.init(document.getElementById('c'), null, {renderer:'canvas'});
chart.setOption({animation:false, backgroundColor:'#fff', textStyle:{fontFamily:FONT},
  grid:grids, xAxis:xAxes, yAxis:yAxes, series:series, graphic:graphic});
</script></body></html>
